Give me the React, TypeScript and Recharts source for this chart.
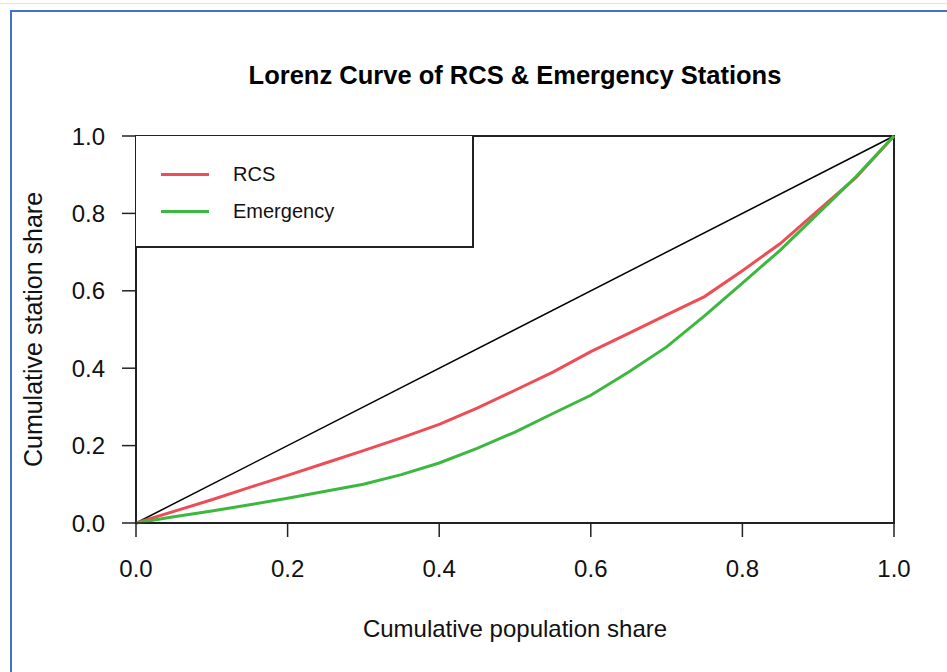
import React from "react";
import { LineChart, Line, XAxis, YAxis, ReferenceLine, ReferenceArea } from "recharts";

const popShare = [0, 0.05, 0.1, 0.15, 0.2, 0.25, 0.3, 0.35, 0.4, 0.45, 0.5, 0.55, 0.6, 0.65, 0.7, 0.75, 0.8, 0.85, 0.9, 0.95, 1.0];
const rcsShare = [0, 0.03, 0.06, 0.092, 0.123, 0.155, 0.187, 0.22, 0.255, 0.297, 0.343, 0.39, 0.443, 0.49, 0.538, 0.585, 0.652, 0.722, 0.808, 0.893, 1.0];
const emergencyShare = [0, 0.016, 0.031, 0.047, 0.064, 0.082, 0.1, 0.125, 0.155, 0.193, 0.235, 0.283, 0.33, 0.39, 0.455, 0.535, 0.62, 0.705, 0.8, 0.895, 1.0];
const ticks = [0, 0.2, 0.4, 0.6, 0.8, 1.0];

const seriesNames = ["RCS", "Emergency"];
const seriesColors = ["#EE4D55", "#3DB83F"];

const data = popShare.map((x, i) => ({ x, rcs: rcsShare[i], emergency: emergencyShare[i] }));

const FONT = "'Liberation Sans', Arial, sans-serif";

export default function App() {
  return (
    <div style={{ position: "absolute", left: 0, top: 0, width: 947, height: 672, background: "#fff", fontFamily: FONT, overflow: "hidden" }}>
      <div style={{ position: "absolute", left: 0, top: 3, width: 947, height: 1, background: "#e2e2e2" }} />
      <div style={{ position: "absolute", left: 10, top: 10, width: 937, height: 2, background: "#4472C4" }} />
      <div style={{ position: "absolute", left: 10, top: 10, width: 2, height: 662, background: "#4472C4" }} />
      <div style={{ position: "absolute", left: 0, top: 60, width: 1030, textAlign: "center", fontSize: 25.5, lineHeight: "30px", fontWeight: "bold", color: "#000" }}>
        Lorenz Curve of RCS &amp; Emergency Stations
      </div>
      <div style={{ position: "absolute", left: 0, top: 0 }}>
        <LineChart width={947} height={672} data={data} margin={{ top: 136, right: 53, bottom: 0, left: 0 }}>
          <XAxis
            dataKey="x"
            type="number"
            domain={[0, 1]}
            ticks={ticks}
            tickFormatter={(v: number) => v.toFixed(1)}
            height={149}
            tickSize={14}
            tickMargin={23}
            stroke="#222"
            strokeWidth={1.5}
            tick={{ fill: "#111", fontSize: 24, fontFamily: FONT }}
            label={{ value: "Cumulative population share", position: "insideBottom", offset: 35, style: { fontSize: 24, fill: "#111", fontFamily: FONT } }}
          />
          <YAxis
            type="number"
            domain={[0, 1]}
            ticks={ticks}
            tickFormatter={(v: number) => v.toFixed(1)}
            width={136}
            tickSize={14}
            tickMargin={17}
            stroke="#222"
            strokeWidth={1.5}
            tick={{ fill: "#111", fontSize: 24, fontFamily: FONT }}
            label={{ value: "Cumulative station share", angle: -90, position: "insideLeft", offset: 33, style: { textAnchor: "middle", fontSize: 25, fill: "#111", fontFamily: FONT } }}
          />
          <ReferenceArea x1={0} x2={1} y1={0} y2={1} fill="none" stroke="#222" strokeWidth={2} ifOverflow="visible" />
          <ReferenceLine segment={[{ x: 0, y: 0 }, { x: 1, y: 1 }]} stroke="#000" strokeWidth={1.5} ifOverflow="visible" />
          <Line type="linear" dataKey="rcs" name={seriesNames[0]} stroke={seriesColors[0]} strokeWidth={3} dot={false} isAnimationActive={false} />
          <Line type="linear" dataKey="emergency" name={seriesNames[1]} stroke={seriesColors[1]} strokeWidth={3} dot={false} isAnimationActive={false} />
        </LineChart>
      </div>
      <div style={{ position: "absolute", left: 136, top: 136, width: 336, height: 110, border: "2px solid #222", borderTop: "none", borderLeft: "none", background: "#fff" }}>
        {seriesNames.map((name, i) => (
          <div key={name} style={{ position: "absolute", left: 25, top: 24 + i * 37, height: 28, display: "flex", alignItems: "center" }}>
            <div style={{ width: 48, height: 3, background: seriesColors[i] }} />
            <span style={{ marginLeft: 24, fontSize: 20, color: "#111" }}>{name}</span>
          </div>
        ))}
      </div>
    </div>
  );
}
